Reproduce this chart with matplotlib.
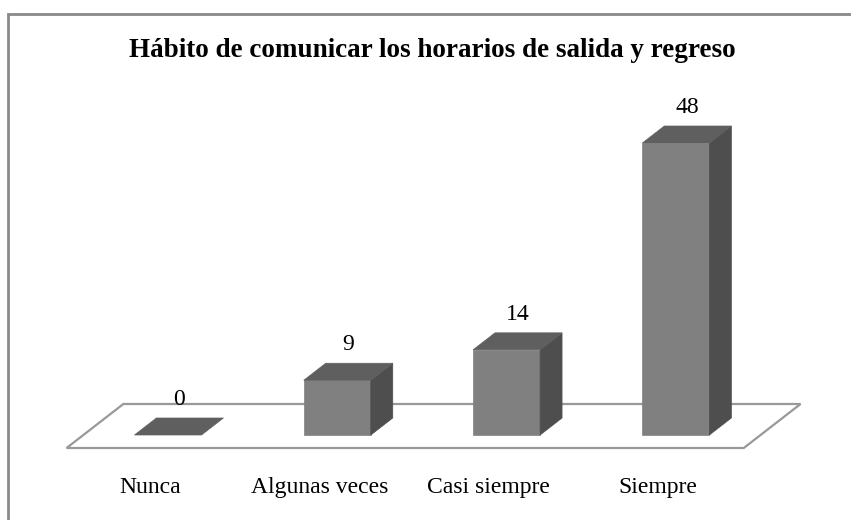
import matplotlib
matplotlib.use("Agg")
import matplotlib.pyplot as plt
from matplotlib.patches import Polygon, Rectangle

# Data
categories = ['Nunca', 'Algunas veces', 'Casi siempre', 'Siempre']
values = [0, 9, 14, 48]
title = 'Hábito de comunicar los horarios de salida y regreso'

plt.rcParams['font.family'] = ['Liberation Serif', 'DejaVu Serif']

W, H = 851, 520
fig = plt.figure(figsize=(W / 100, H / 100), dpi=100)
ax = fig.add_axes([0, 0, 1, 1])

# scale: one category = 169.3 px, one value unit = 6.083 px
px_x = 169.3
px_y = 6.083
x0_px, y0_px = 168, 435
ax.set_xlim(-x0_px / px_x, (W - x0_px) / px_x)
ax.set_ylim((y0_px - H) / px_y, y0_px / px_y)
ax.axis('off')

# oblique depth direction (per pixel of depth)
ddx = 1.29 / px_x
ddy = 1.0 / px_y
depth = 17      # bar depth in px
bw = 0.396      # bar width in category units

front_col = '#808080'
top_col = '#5f5f5f'
side_col = '#4e4e4e'

# floor
fl, fr = -0.5, len(categories) - 0.5
d_front, d_back = -13, 31
floor = [(fl + d_front * ddx, d_front * ddy), (fr + d_front * ddx, d_front * ddy),
         (fr + d_back * ddx, d_back * ddy), (fl + d_back * ddx, d_back * ddy)]
ax.add_patch(Polygon(floor, closed=True, facecolor='white', edgecolor='#999999', lw=1.6, zorder=1))

DX, DY = depth * ddx, depth * ddy
for i, v in enumerate(values):
    l, r = i - bw / 2, i + bw / 2
    if v > 0:
        ax.add_patch(Polygon([(l, 0), (r, 0), (r, v), (l, v)], facecolor=front_col,
                             edgecolor=front_col, lw=0.5, zorder=3))
        ax.add_patch(Polygon([(r, 0), (r + DX, DY), (r + DX, v + DY), (r, v)],
                             facecolor=side_col, edgecolor=side_col, lw=0.5, zorder=3))
    ax.add_patch(Polygon([(l, v), (r, v), (r + DX, v + DY), (l + DX, v + DY)],
                         facecolor=top_col, edgecolor=top_col, lw=0.5, zorder=3))
    ax.text(i + DX / 2, v + DY + 13 / px_y, str(v), ha='center', va='baseline',
            fontsize=17, color='black', zorder=4)
    ax.text(i - 18 / px_x, -58 / px_y, categories[i], ha='center', va='baseline',
            fontsize=17, color='black', zorder=4)

fig.text(432 / W, 1 - 57 / H, title, ha='center', va='baseline',
         fontsize=19.5, fontweight='bold')

# outer frame (left and top visible)
fig.patches.append(Rectangle((8 / W, -0.2), 2, 1.2 - 14 / H, transform=fig.transFigure,
                             fill=False, edgecolor='#8a8a8a', lw=2, figure=fig))

fig.savefig('out.png', dpi=100)
